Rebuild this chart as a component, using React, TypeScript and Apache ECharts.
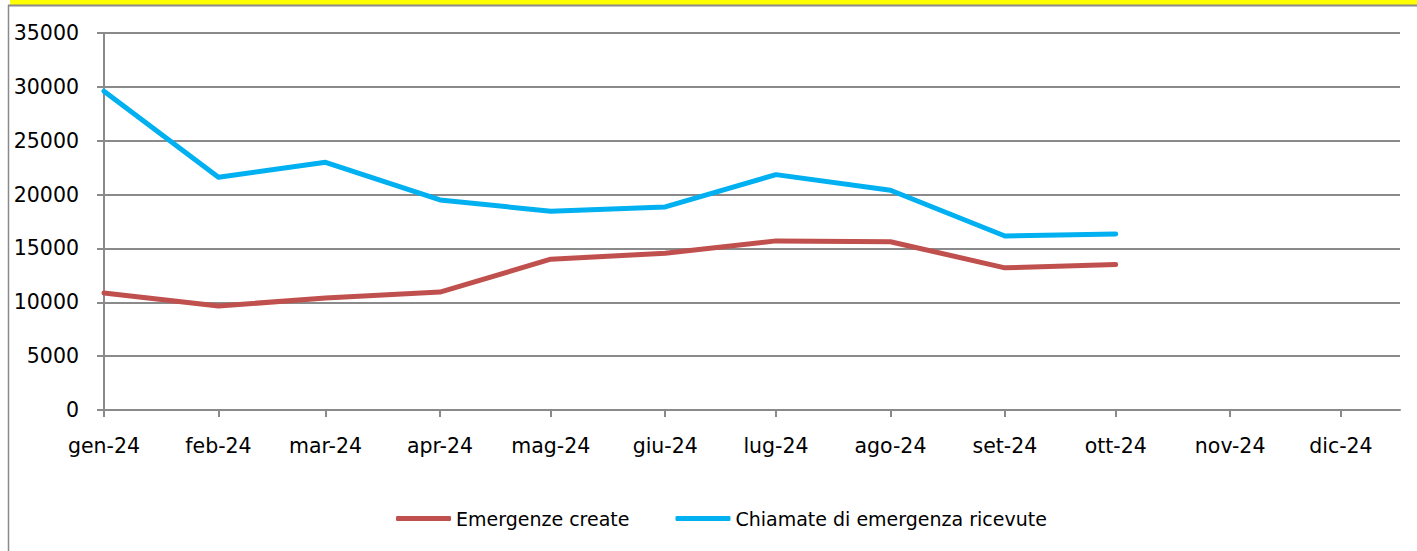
import React, { useEffect, useRef } from "react";
import * as echarts from "echarts";

const monthLabels = ["gen-24", "feb-24", "mar-24", "apr-24", "mag-24", "giu-24", "lug-24", "ago-24", "set-24", "ott-24", "nov-24", "dic-24"];
// day of year (2024) at which each month starts
const monthStartDays = [0, 31, 60, 91, 121, 152, 182, 213, 244, 274, 305, 335];
const axisEndDay = 351;

const emergenzeCreate = [10860, 9650, 10400, 10950, 14000, 14550, 15700, 15620, 13200, 13500];
const chiamateRicevute = [29600, 21600, 23000, 19500, 18450, 18850, 21850, 20400, 16150, 16350];

const yTicks = [0, 5000, 10000, 15000, 20000, 25000, 30000, 35000];

const FONT = "DejaVu Sans";
const GRAY = "#8a8a8a";

export default function App() {
  const ref = useRef<HTMLDivElement>(null);
  useEffect(() => {
    if (!ref.current) return;
    const chart = echarts.init(ref.current, null, { renderer: "svg" });
    const toPairs = (vals: number[]) => vals.map((v, i) => [monthStartDays[i], v]);
    chart.setOption({
      animation: false,
      backgroundColor: "#ffffff",
      textStyle: { fontFamily: FONT },
      graphic: [
        { type: "rect", shape: { x: 10, y: 0, width: 1407, height: 5 }, style: { fill: "#ffff00" }, silent: true },
        { type: "line", shape: { x1: 8, y1: 5.5, x2: 1417, y2: 5.5 }, style: { stroke: GRAY, lineWidth: 2 }, silent: true },
        { type: "line", shape: { x1: 8.5, y1: 5, x2: 8.5, y2: 551 }, style: { stroke: GRAY, lineWidth: 1.5 }, silent: true },
      ],
      grid: { left: 104, right: 17, top: 33, bottom: 141, containLabel: false },
      legend: {
        left: 396,
        top: 509,
        padding: 0,
        icon: "roundRect",
        itemWidth: 55,
        itemHeight: 5,
        itemGap: 46,
        textStyle: { fontFamily: FONT, fontSize: 19, color: "#000" },
        data: ["Emergenze create", "Chiamate di emergenza ricevute"],
      },
      xAxis: {
        type: "value",
        min: 0,
        max: axisEndDay,
        axisLine: { show: true, lineStyle: { color: GRAY, width: 2 } },
        axisTick: { show: true, length: 7, customValues: monthStartDays, lineStyle: { color: GRAY, width: 2 } },
        axisLabel: {
          customValues: monthStartDays,
          margin: 25,
          fontFamily: FONT,
          fontSize: 20.5,
          color: "#000",
          formatter: (v: number) => {
            const i = monthStartDays.indexOf(Math.round(v));
            return i >= 0 ? monthLabels[i] : "";
          },
        },
        splitLine: { show: false },
      },
      yAxis: {
        type: "value",
        min: 0,
        max: 35000,
        interval: 5000,
        axisLine: { show: true, lineStyle: { color: GRAY, width: 2 } },
        axisTick: { show: true, length: 7, lineStyle: { color: GRAY, width: 2 } },
        axisLabel: {
          margin: 25,
          fontFamily: FONT,
          fontSize: 20.5,
          color: "#000",
          customValues: yTicks,
          formatter: (v: number) => String(v),
        },
        splitLine: { show: true, lineStyle: { color: GRAY, width: 2 } },
      },
      series: [
        {
          name: "Emergenze create",
          type: "line",
          data: toPairs(emergenzeCreate),
          symbol: "none",
          color: "#C0504D",
          lineStyle: { width: 5, color: "#C0504D", cap: "round", join: "round" },
        },
        {
          name: "Chiamate di emergenza ricevute",
          type: "line",
          data: toPairs(chiamateRicevute),
          symbol: "none",
          color: "#00B0F0",
          lineStyle: { width: 5, color: "#00B0F0", cap: "round", join: "round" },
        },
      ],
    });
    return () => chart.dispose();
  }, []);
  return <div ref={ref} style={{ position: "absolute", left: 0, top: 0, width: 1417, height: 551 }} />;
}
